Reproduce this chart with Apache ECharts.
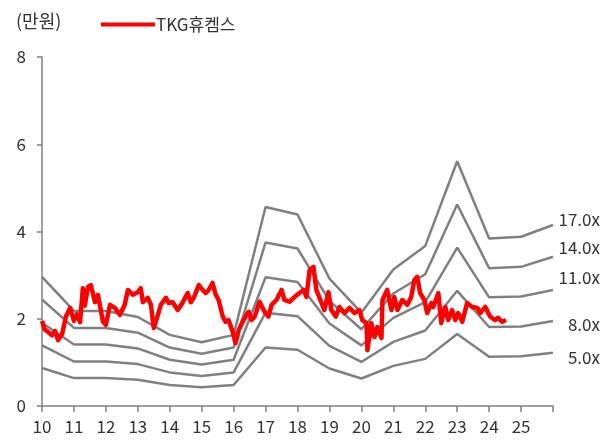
<!DOCTYPE html>
<html>
<head>
<meta charset="utf-8">
<script src="https://cdn.jsdelivr.net/npm/echarts@6/dist/echarts.min.js"></script>
<style>
  html, body { margin: 0; padding: 0; background: #fff; }
  #chart { width: 603px; height: 441px; }
</style>
</head>
<body>
<div id="chart"></div>
<script>
// 밴드 기준 시점 (연도, 10 = 2010)
var bandYears = [10, 11, 12, 13, 14, 15, 16, 17, 18, 19, 20, 21, 22, 23, 24, 25, 26];
var band5  = [0.87, 0.64, 0.64, 0.60, 0.48, 0.43, 0.48, 1.34, 1.29, 0.86, 0.63, 0.92, 1.08, 1.65, 1.13, 1.14, 1.22];
var band8  = [1.39, 1.02, 1.02, 0.96, 0.77, 0.69, 0.77, 2.14, 2.06, 1.38, 1.01, 1.47, 1.73, 2.64, 1.81, 1.82, 1.95];
var band11 = [1.91, 1.41, 1.41, 1.32, 1.06, 0.95, 1.06, 2.95, 2.84, 1.89, 1.39, 2.02, 2.38, 3.63, 2.49, 2.51, 2.66];
var band14 = [2.44, 1.79, 1.79, 1.68, 1.34, 1.20, 1.34, 3.75, 3.61, 2.41, 1.76, 2.58, 3.02, 4.62, 3.16, 3.19, 3.42];
var band17 = [2.96, 2.18, 2.18, 2.04, 1.63, 1.46, 1.63, 4.56, 4.39, 2.92, 2.14, 3.13, 3.67, 5.61, 3.84, 3.88, 4.15];
var bandNames = ['5.0x', '8.0x', '11.0x', '14.0x', '17.0x'];

// 주가 (만원)
var priceYears = [10.0, 10.09, 10.19, 10.31, 10.41, 10.5, 10.63, 10.75, 10.88, 11.0, 11.09, 11.19, 11.28, 11.34, 11.44, 11.53, 11.66, 11.75, 11.91,
  12.0, 12.13, 12.28, 12.44, 12.59, 12.69, 12.84, 13.0, 13.09, 13.16, 13.31, 13.41, 13.5, 13.63, 13.72, 13.88, 13.97,
  14.09, 14.25, 14.41, 14.56, 14.66, 14.75, 14.91, 15.03, 15.13, 15.22, 15.34, 15.44, 15.53, 15.66, 15.75, 15.84, 15.97,
  16.06, 16.16, 16.31, 16.47, 16.56, 16.66, 16.81, 16.97, 17.09, 17.19, 17.34, 17.5, 17.59, 17.75, 17.91,
  18.06, 18.19, 18.28, 18.38, 18.5, 18.59, 18.69, 18.84, 18.97, 19.06, 19.2, 19.31, 19.47, 19.63, 19.78, 19.94,
  20.03, 20.16, 20.19, 20.31, 20.41, 20.5, 20.63, 20.66, 20.81, 20.94, 21.03, 21.13, 21.28, 21.44, 21.56, 21.66, 21.75, 21.84, 21.97,
  22.06, 22.19, 22.25, 22.41, 22.5, 22.63, 22.72, 22.84, 22.94, 23.03, 23.16, 23.31, 23.47, 23.63, 23.72, 23.88,
  24.03, 24.19, 24.28, 24.41, 24.53];
var priceValues = [1.95, 1.75, 1.70, 1.62, 1.72, 1.51, 1.65, 2.05, 2.25, 1.95, 2.10, 1.92, 2.70, 2.30, 2.73, 2.77, 2.38, 2.55, 1.93,
  1.86, 2.32, 2.25, 2.09, 2.32, 2.66, 2.55, 2.61, 2.70, 2.38, 2.48, 2.32, 1.79, 2.09, 2.32, 2.48, 2.36,
  2.38, 2.20, 2.38, 2.59, 2.38, 2.48, 2.77, 2.66, 2.59, 2.66, 2.82, 2.55, 2.43, 2.05, 1.93, 1.97, 1.70,
  1.44, 1.74, 1.97, 2.16, 1.97, 2.05, 2.39, 2.16, 2.05, 2.32, 2.43, 2.66, 2.43, 2.39, 2.50,
  2.59, 2.66, 2.50, 3.12, 3.19, 2.66, 2.48, 2.20, 2.61, 2.20, 2.05, 2.27, 2.13, 2.25, 2.13, 2.20,
  1.97, 1.90, 1.28, 1.90, 1.58, 1.81, 1.56, 2.43, 2.66, 2.20, 2.50, 2.20, 2.43, 2.32, 2.50, 2.89, 2.96, 2.59, 2.43,
  2.13, 2.36, 2.27, 2.59, 1.90, 2.27, 1.97, 2.20, 1.97, 2.13, 1.93, 2.36, 2.27, 2.25, 2.13, 2.27,
  2.05, 1.97, 2.02, 1.93, 1.97];

var yTicks = [0, 2, 4, 6, 8];

var font = 'Noto Sans CJK KR';
var myChart = echarts.init(document.getElementById('chart'));

function pairs(xs, ys) {
  var out = [];
  for (var i = 0; i < xs.length; i++) out.push([xs[i], ys[i]]);
  return out;
}

var bands = [band5, band8, band11, band14, band17];
var labelOffsets = [[47, 5], [47, 4], [47, -12], [47, -9], [47, -5]];
var series = [];
bands.forEach(function (b, i) {
  series.push({
    name: bandNames[i],
    type: 'line',
    data: pairs(bandYears, b),
    showSymbol: false,
    silent: true,
    z: 1,
    lineStyle: { color: '#808080', width: 2.5 },
    endLabel: {
      show: true,
      formatter: bandNames[i],
      color: '#333',
      fontSize: 17,
      fontFamily: font,
      align: 'right',
      distance: 0,
      offset: labelOffsets[i]
    }
  });
});
series.push({
  name: 'TKG휴켐스',
  type: 'line',
  data: pairs(priceYears, priceValues),
  showSymbol: false,
  z: 5,
  itemStyle: { color: '#ff0000' },
  lineStyle: { color: '#ff0000', width: 4.5, join: 'round' }
});

var option = {
  animation: false,
  title: {
    text: '(만원)',
    left: 11,
    top: 7,
    textStyle: { fontSize: 18, fontWeight: 'normal', color: '#333', fontFamily: font }
  },
  legend: {
    data: [{ name: 'TKG휴켐스', icon: 'rect' }],
    left: 96,
    top: 11,
    itemWidth: 54,
    itemHeight: 4,
    itemGap: 2,
    textStyle: { fontSize: 17, color: '#333', fontFamily: font, padding: [0, 0, 0, -4] }
  },
  grid: { left: 42, right: 50, top: 57, bottom: 35, containLabel: false },
  xAxis: {
    type: 'value',
    min: 10,
    max: 26,
    interval: 1,
    splitLine: { show: false },
    axisLine: { lineStyle: { color: '#808080', width: 1.5 } },
    axisTick: { show: true, length: 6, lineStyle: { color: '#808080', width: 1.5 } },
    axisLabel: {
      fontSize: 17,
      color: '#333',
      fontFamily: font,
      margin: 12,
      showMaxLabel: true,
      formatter: function (v) { return v >= 26 ? '' : String(v); }
    }
  },
  yAxis: {
    type: 'value',
    min: yTicks[0],
    max: yTicks[yTicks.length - 1],
    interval: 2,
    splitLine: { show: false },
    axisLine: { show: true, lineStyle: { color: '#808080', width: 1.5 } },
    axisTick: { show: true, length: 5, lineStyle: { color: '#808080', width: 1.5 } },
    axisLabel: { fontSize: 17, color: '#333', fontFamily: font, margin: 16 }
  },
  series: series
};
myChart.setOption(option);
window.addEventListener('resize', function () { myChart.resize(); });
</script>
</body>
</html>
